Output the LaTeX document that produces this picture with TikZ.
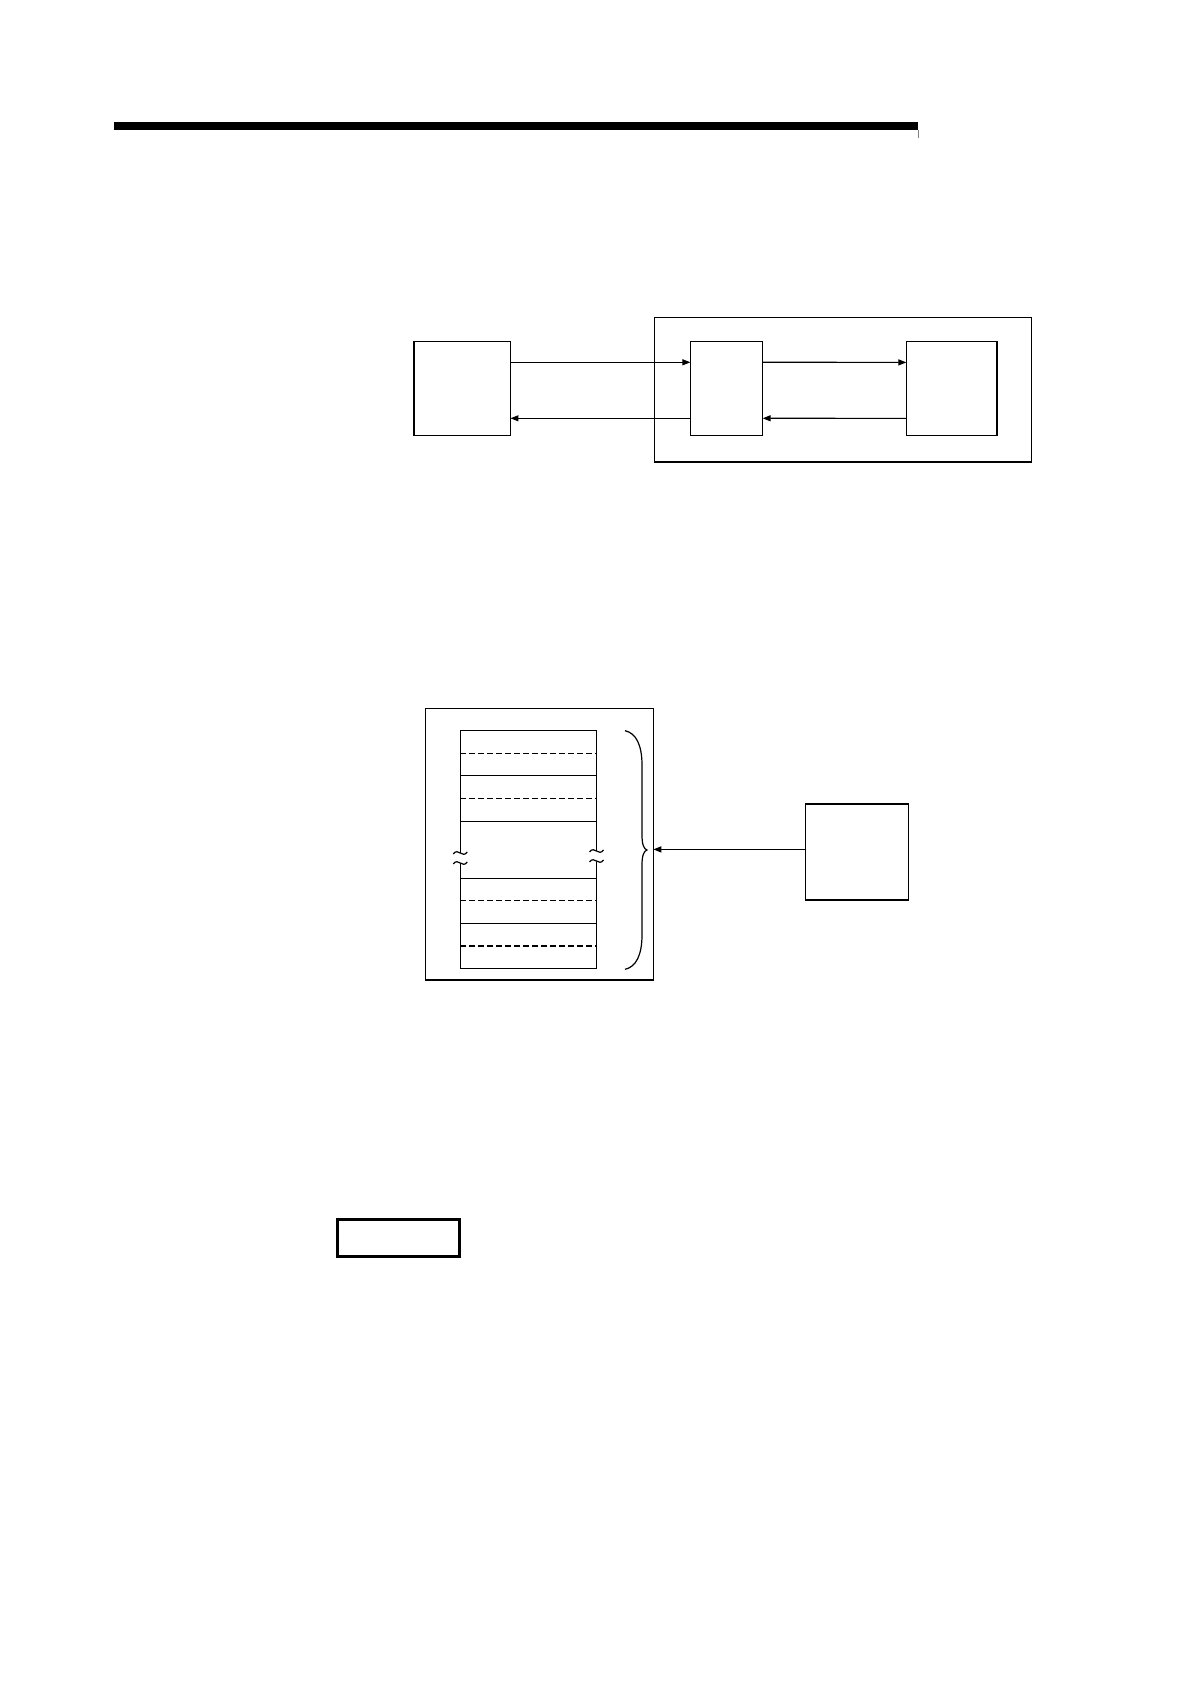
\documentclass[tikz,border=0pt]{standalone}
\usepackage{tikz}
\usetikzlibrary{arrows.meta}
\tikzset{every picture/.style={line width=0.6pt}}
\tikzset{
  blk/.style={draw, inner sep=0pt, outer sep=0pt},
  flow/.style={-{Triangle[length=4pt,width=3pt]}},
  rowdash/.style={dash pattern=on 3pt off 1.5pt},
}

\begin{document}
\begin{tikzpicture}[x=0.5pt,y=0.5pt,yscale=-1,xscale=1]
\useasboundingbox (0,0) rectangle (1190,1684);

%Straight Lines [header rule]
\draw [line width=4pt] (114,126) -- (918,126) ;
\draw [color=gray, line width=0.4pt] (918,130) -- (918,138) ;

%Shape: Rectangle [upper frame]
\node [blk, minimum width=188.5pt, minimum height=72.35pt] (unitframe) at (843.2,389.7) {};
%Shape: Rectangle [left box]
\node [blk, minimum width=48.25pt, minimum height=47pt] (host) at (462.2,388.7) {};
%Shape: Rectangle [middle box]
\node [blk, minimum width=36.15pt, minimum height=47pt] (port) at (726.5,388.7) {};
%Shape: Rectangle [right box]
\node [blk, minimum width=45.35pt, minimum height=47pt] (store) at (951.7,388.8) {};

%Straight Lines [left pair]
\draw [flow] ([yshift=-13.2pt]host.east) -- ([yshift=-13.2pt]port.west) ;
\draw [flow] ([yshift=14.8pt]port.west) -- ([yshift=14.8pt]host.east) ;
%Straight Lines [right pair]
\draw [flow] ([yshift=-13.2pt]port.east) -- ([yshift=-13.2pt]store.west) ;
\draw [flow] ([yshift=14.8pt]store.west) -- ([yshift=14.8pt]port.east) ;

%Shape: Rectangle [lower frame]
\node [blk, minimum width=113.8pt, minimum height=135.85pt] (areaframe) at (539.5,844.2) {};
%Shape: Rectangle [right box, lower]
\node [blk, minimum width=51.3pt, minimum height=48pt] (dev) at (857,852) {};

%Table: outline, broken in the middle
\draw (460.3,853) -- (460.3,730.3) -- (596.5,730.3) -- (596.5,851) ;
\draw (460.3,863) -- (460.3,968.3) -- (596.5,968.3) -- (596.5,861) ;
%Table: solid rows
\draw (460.3,775.3) -- (596.5,775.3) ;
\draw (460.3,821.3) -- (596.5,821.3) ;
\draw (460.3,878.3) -- (596.5,878.3) ;
\draw (460.3,923.3) -- (596.5,923.3) ;
%Table: dashed rows
\draw [rowdash] (460.3,753.3) -- (596.5,753.3) ;
\draw [rowdash] (460.3,798.3) -- (596.5,798.3) ;
\draw [rowdash] (460.3,900.3) -- (596.5,900.3) ;
\draw [rowdash, line width=0.9pt] (460.3,945.7) -- (596.5,945.7) ;

%Curve Lines [break marks]
\draw (453.3,854) .. controls (458.3,847) and (462.3,859) .. (467.3,852) ;
\draw (453.3,864) .. controls (458.3,857) and (462.3,869) .. (467.3,862) ;
\draw (589.5,852) .. controls (594.5,845) and (598.5,857) .. (603.5,850) ;
\draw (589.5,862) .. controls (594.5,855) and (598.5,867) .. (603.5,860) ;

%Curve Lines [brace]
\coordinate (braceTip) at (647,850) ;
\draw (625,730.7) .. controls (636,733) and (642,745) .. (642,765) -- (642,835) .. controls (642,845) and (644,849) .. (braceTip) .. controls (644,851) and (642,855) .. (642,865) -- (642,935) .. controls (642,955) and (636,967) .. (625,969.3) ;

%Straight Lines [to frame]
\draw [flow] ([yshift=-1.3pt]dev.west) -- ([yshift=-1.3pt]dev.west -| areaframe.east) ;

%Shape: Rectangle [small box]
\node [blk, line width=1.35pt, minimum width=61.2pt, minimum height=18.5pt] (tag) at (398.5,1237.8) {};

\end{tikzpicture}
\end{document}
